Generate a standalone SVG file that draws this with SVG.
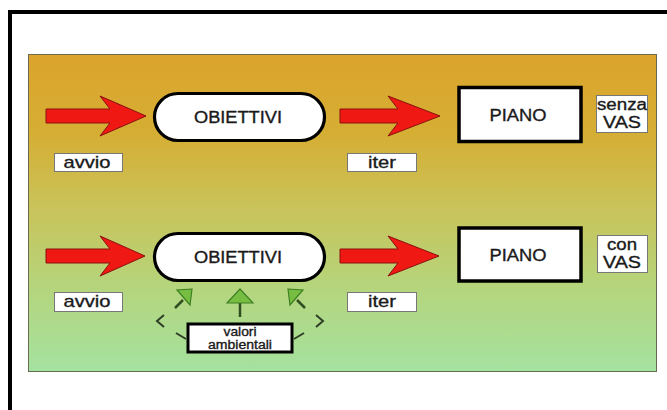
<svg xmlns="http://www.w3.org/2000/svg" width="667" height="410" viewBox="0 0 667 410">
<defs>
<linearGradient id="bg" x1="0" y1="0" x2="0" y2="1">
<stop offset="0" stop-color="#DCA42C"/>
<stop offset="0.25" stop-color="#D5AE34"/>
<stop offset="0.47" stop-color="#CAC258"/>
<stop offset="0.72" stop-color="#B6D47A"/>
<stop offset="1" stop-color="#A4E2A0"/>
</linearGradient>
<style>
.t{font-family:"Liberation Sans",Arial,sans-serif;fill:#1a1a1a;stroke:#1a1a1a;stroke-width:0.35;text-anchor:middle}
.red{fill:#F01812;stroke:#8a1010;stroke-width:1}
.pill{fill:#fff;stroke:#000;stroke-width:3.2}
.box{fill:#fff;stroke:#000;stroke-width:3.5}
.lbl{fill:#fff;stroke:#777;stroke-width:1}
.gr{fill:#76BE42;stroke:#3F7F25;stroke-width:1.2}
.dash{fill:none;stroke:#2f3f28;stroke-width:2}
</style>
</defs>
<rect x="0" y="0" width="667" height="410" fill="#fff"/>
<rect x="10" y="12" width="700" height="450" fill="none" stroke="#000" stroke-width="4"/>
<rect x="28.5" y="54.5" width="628" height="317" fill="url(#bg)" stroke="#6a6a52" stroke-width="1"/>

<g id="connectors">
<path class="red" d="M46,109 L110,109 L100,96 L146,116 L100,136 L110,123 L46,123 Z"/>
<path class="red" d="M340,109 L398,109 L388,96 L440,116 L388,136 L398,123 L340,123 Z"/>
<path class="red" d="M46,249 L110,249 L100,236 L145,256 L100,276 L110,263 L46,263 Z"/>
<path class="red" d="M340,249 L398,249 L388,236 L439,256 L388,276 L398,263 L340,263 Z"/>
<line x1="240" y1="302" x2="240" y2="317" stroke="#2f4f22" stroke-width="2.5"/>
<path class="gr" d="M240,289 L253,303 L227,303 Z"/>
<line x1="175" y1="308" x2="183" y2="300" stroke="#2f4f22" stroke-width="2.5"/>
<path class="gr" d="M192,289 L177,290 L190,305 Z"/>
<line x1="305" y1="308" x2="297" y2="300" stroke="#2f4f22" stroke-width="2.5"/>
<path class="gr" d="M288,289 L303,290 L290,305 Z"/>
<polyline class="dash" points="164,315 157,321 164,327"/>
<line class="dash" x1="176" y1="333" x2="186" y2="339"/>
<polyline class="dash" points="316,315 323,321 316,327"/>
<line class="dash" x1="304" y1="333" x2="294" y2="339"/>
</g>

<g id="obiettivi1">
<rect class="pill" x="154.5" y="93.5" width="170" height="47" rx="23.5"/>
<text class="t" x="238" y="123" font-size="16" textLength="88" lengthAdjust="spacingAndGlyphs">OBIETTIVI</text>
</g>
<g id="piano1">
<rect class="box" x="459" y="87.5" width="122" height="54"/>
<text class="t" x="518" y="121" font-size="17" textLength="57" lengthAdjust="spacingAndGlyphs">PIANO</text>
</g>
<g id="senzavas">
<rect class="lbl" x="596.5" y="95.5" width="51" height="37"/>
<text class="t" x="622" y="110" font-size="16" textLength="50" lengthAdjust="spacingAndGlyphs">senza</text>
<text class="t" x="622" y="128" font-size="16" textLength="38" lengthAdjust="spacingAndGlyphs">VAS</text>
</g>
<g id="avvio1">
<rect class="lbl" x="54.5" y="153.5" width="68" height="18"/>
<text class="t" x="87" y="168" font-size="17" textLength="47" lengthAdjust="spacingAndGlyphs">avvio</text>
</g>
<g id="iter1">
<rect class="lbl" x="347.5" y="153.5" width="69" height="18"/>
<text class="t" x="382" y="168" font-size="17" textLength="28" lengthAdjust="spacingAndGlyphs">iter</text>
</g>

<g id="obiettivi2">
<rect class="pill" x="154.5" y="233.5" width="170" height="47" rx="23.5"/>
<text class="t" x="238" y="263" font-size="16" textLength="88" lengthAdjust="spacingAndGlyphs">OBIETTIVI</text>
</g>
<g id="piano2">
<rect class="box" x="459" y="228" width="122" height="53"/>
<text class="t" x="518" y="261" font-size="17" textLength="57" lengthAdjust="spacingAndGlyphs">PIANO</text>
</g>
<g id="convas">
<rect class="lbl" x="597.5" y="235.5" width="50" height="37"/>
<text class="t" x="622" y="250" font-size="16" textLength="30" lengthAdjust="spacingAndGlyphs">con</text>
<text class="t" x="622" y="268" font-size="16" textLength="38" lengthAdjust="spacingAndGlyphs">VAS</text>
</g>
<g id="avvio2">
<rect class="lbl" x="54.5" y="292.5" width="68" height="19"/>
<text class="t" x="87" y="307" font-size="17" textLength="47" lengthAdjust="spacingAndGlyphs">avvio</text>
</g>
<g id="iter2">
<rect class="lbl" x="347.5" y="292.5" width="69" height="19"/>
<text class="t" x="382" y="307" font-size="17" textLength="28" lengthAdjust="spacingAndGlyphs">iter</text>
</g>
<g id="valori">
<rect x="188" y="324" width="104" height="28" fill="#fff" stroke="#000" stroke-width="3"/>
<text class="t" x="240" y="336" font-size="12" textLength="33" lengthAdjust="spacingAndGlyphs" stroke-width="0.2">valori</text>
<text class="t" x="240" y="349" font-size="12" textLength="64" lengthAdjust="spacingAndGlyphs" stroke-width="0.2">ambientali</text>
</g>
</svg>
